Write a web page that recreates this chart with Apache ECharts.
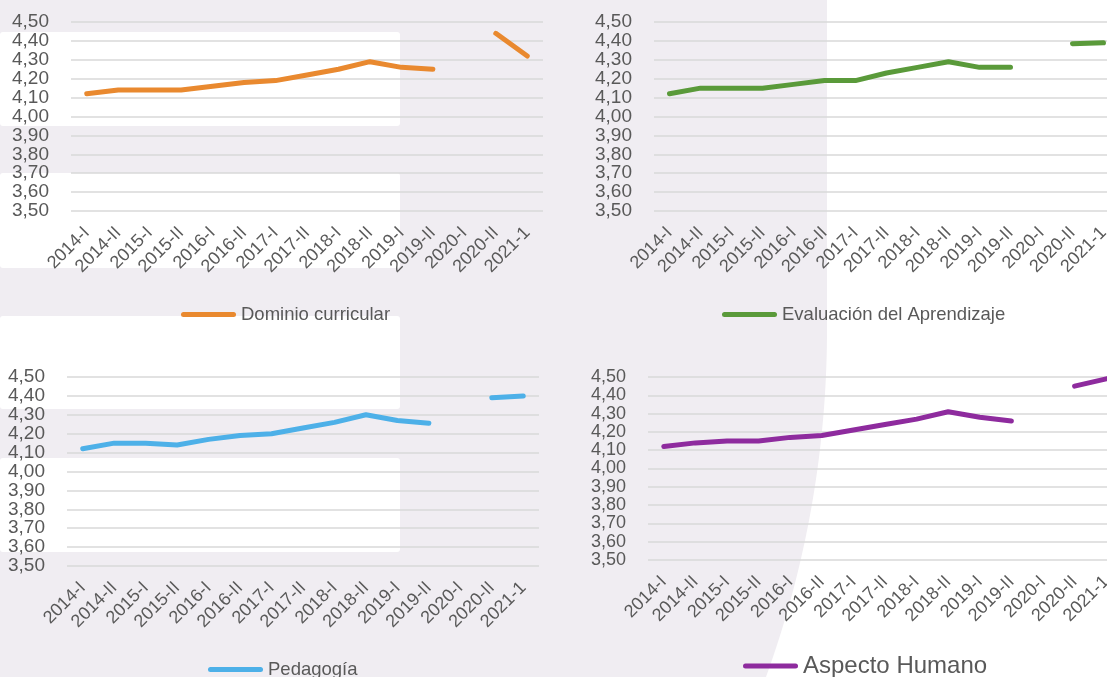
<!DOCTYPE html>
<html>
<head>
<meta charset="utf-8">
<script src="https://cdn.jsdelivr.net/npm/echarts@6/dist/echarts.min.js"></script>
<style>
    html, body { margin: 0; padding: 0; }
    #chart { width: 1107px; height: 677px; }
</style>
</head>
<body>
<div id="chart"></div>
<script>
// periodos
const periods = ["2014-I", "2014-II", "2015-I", "2015-II", "2016-I", "2016-II", "2017-I",
    "2017-II", "2018-I", "2018-II", "2019-I", "2019-II", "2020-I", "2020-II", "2021-1"];

// promedios por dimensión (2020-I sin dato)
const dominio = [4.12, 4.14, 4.14, 4.14, 4.16, 4.18, 4.19, 4.22, 4.25, 4.29, 4.26, 4.25, null, 4.44, 4.32];
const evaluacion = [4.12, 4.15, 4.15, 4.15, 4.17, 4.19, 4.19, 4.23, 4.26, 4.29, 4.26, 4.26, null, 4.385, 4.39];
const pedagogia = [4.12, 4.15, 4.15, 4.14, 4.17, 4.19, 4.20, 4.23, 4.26, 4.30, 4.27, 4.255, null, 4.39, 4.40];
const humano = [4.12, 4.14, 4.15, 4.15, 4.17, 4.18, 4.21, 4.24, 4.27, 4.31, 4.28, 4.26, null, 4.45, 4.49];

const names = ["Dominio curricular", "Evaluación del Aprendizaje", "Pedagogía", "Aspecto Humano"];
const colors = ["#E9892F", "#5A9A3A", "#4DB0E8", "#8E2B9E"];
const allData = [dominio, evaluacion, pedagogia, humano];

const textColor = "#595959";
const font = "Liberation Sans, Arial, sans-serif";
const bgPurple = "#F0EDF2";

const chartDom = document.getElementById("chart");
const myChart = echarts.init(chartDom);

// posiciones de cada panel (los de la derecha se salen del lienzo)
const grids = [
    { left: 71, top: 22, width: 472, height: 189, outerBoundsMode: "none" },
    { left: 654, top: 22, width: 465, height: 189, outerBoundsMode: "none" },
    { left: 67, top: 377, width: 472, height: 189, outerBoundsMode: "none" },
    { left: 648, top: 377, width: 474, height: 183, outerBoundsMode: "none" },
];

const legends = [
    { left: 181, top: 305, fontSize: 18.5 },
    { left: 722, top: 305, fontSize: 18.5 },
    { left: 208, top: 660, fontSize: 18.5 },
    { left: 743, top: 654, fontSize: 24 },
];

// icono de leyenda: línea gruesa con extremos redondeados
const lineIcon = "path://M2.5,0 H52.5 A2.5,2.5 0 0 1 52.5,5 H2.5 A2.5,2.5 0 0 1 2.5,0 Z";

const xAxis = grids.map((g, i) => ({
    type: "category",
    gridIndex: i,
    data: periods,
    axisLine: { show: false },
    axisTick: { show: false },
    axisLabel: {
        interval: 0,
        rotate: 45,
        margin: 19,
        color: textColor,
        fontSize: 18,
        fontFamily: font,
    },
}));

const yAxis = grids.map((g, i) => ({
    type: "value",
    gridIndex: i,
    min: 3.5,
    max: 4.5,
    interval: 0.1,
    axisLine: { show: false },
    axisTick: { show: false },
    splitLine: { lineStyle: { color: "#D9D9D9", width: 1.5 } },
    axisLabel: {
        margin: 22,
        color: textColor,
        fontSize: i === 3 ? 18 : 19,
        fontFamily: font,
        formatter: (v) => v.toFixed(2).replace(".", ","),
    },
}));

const series = allData.map((d, i) => ({
    name: names[i],
    type: "line",
    xAxisIndex: i,
    yAxisIndex: i,
    data: d,
    symbol: "none",
    connectNulls: false,
    lineStyle: { color: colors[i], width: 5, cap: "round", join: "round" },
    itemStyle: { color: colors[i] },
}));

const legend = legends.map((l, i) => ({
    data: [names[i]],
    left: l.left,
    top: l.top,
    padding: 0,
    icon: lineIcon,
    itemWidth: 55,
    itemHeight: 5,
    itemGap: 5,
    textStyle: { color: textColor, fontSize: l.fontSize, fontFamily: font },
}));

// fondo decorativo: zona blanca derecha con borde curvo
const curve = [[827, 0], [1107, 0], [1107, 677]];
for (let y = 677; y >= 330; y -= 10) {
    const dy = y - 330;
    curve.push([827 - 1017 + Math.sqrt(1017 * 1017 - dy * dy), y]);
}
curve.push([827, 330]);

const graphic = [
    { type: "rect", z: -10, shape: { x: 0, y: 0, width: 1107, height: 677 }, style: { fill: bgPurple } },
    { type: "rect", z: -9, shape: { x: 0, y: 32, width: 400, height: 94, r: 3 }, style: { fill: "#fff" } },
    { type: "rect", z: -9, shape: { x: 0, y: 173, width: 400, height: 95, r: 3 }, style: { fill: "#fff" } },
    { type: "rect", z: -9, shape: { x: 0, y: 316, width: 400, height: 93, r: 3 }, style: { fill: "#fff" } },
    { type: "rect", z: -9, shape: { x: 0, y: 458, width: 400, height: 94, r: 3 }, style: { fill: "#fff" } },
    { type: "polygon", z: -9, shape: { points: curve }, style: { fill: "#fff" } },
];

const option = {
    animation: false,
    backgroundColor: "#fff",
    graphic: graphic,
    grid: grids,
    xAxis: xAxis,
    yAxis: yAxis,
    legend: legend,
    series: series,
};

myChart.setOption(option);
</script>
</body>
</html>
